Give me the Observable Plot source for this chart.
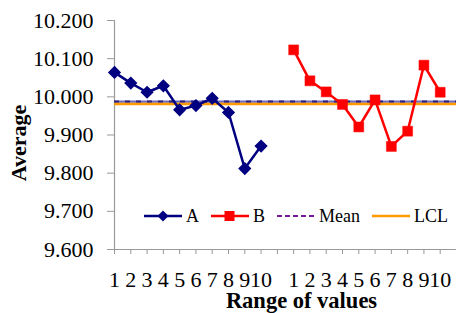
<!DOCTYPE html>
<html><head><meta charset="utf-8">
<script src="https://cdn.jsdelivr.net/npm/d3@7"></script>
<script src="https://cdn.jsdelivr.net/npm/@observablehq/plot@0.6"></script>
<style>
body{margin:0;background:#fff;}
#wrap{position:relative;width:456px;height:313px;font-family:"Liberation Serif","Times New Roman",serif;}
#wrap svg text{font-family:"Liberation Serif","Times New Roman",serif;}
#legend{position:absolute;left:144px;top:205px;display:flex;align-items:center;font-size:18px;line-height:22px;color:#000;}
#legend .item{display:flex;align-items:center;}
#legend svg{display:block;margin-right:4px;}
</style></head><body><div id="wrap"></div>
<script>
// Data
const labelsA = ["1","2","3","4","5","6","7","8","9","10"];
const labelsB = ["1","2","3","4","5","6","7","8","9","10"];
const seriesA = [10.064, 10.036, 10.012, 10.029, 9.966, 9.977, 9.996, 9.959, 9.812, 9.871];
const seriesB = [10.123, 10.042, 10.013, 9.980, 9.921, 9.992, 9.870, 9.910, 10.083, 10.012];
const meanValue = 9.988;
const lclValue = 9.982;
const yTicks = [9.6, 9.7, 9.8, 9.9, 10.0, 10.1, 10.2];
const xTickLabels = [...labelsA, "", ...labelsB];
const legendNames = ["A", "B", "Mean", "LCL"];

const colA = "#000080", colB = "#ff0000", colMean = "#7a1a9a", colLCL = "#ff9900";
const serif = "Liberation Serif";

const dataA = seriesA.map((v, i) => ({pos: i, value: v}));
const dataB = seriesB.map((v, i) => ({pos: i + labelsA.length + 1, value: v}));

const chart = Plot.plot({
  width: 456, height: 313,
  marginLeft: 114, marginRight: 0, marginTop: 20, marginBottom: 64,
  style: {fontFamily: serif, fontSize: "22px", color: "#000", background: "#fff", overflow: "visible"},
  x: {type: "linear", domain: [0, 21]},
  y: {domain: [9.6, 10.2]},
  marks: [
    Plot.ruleX([0], {stroke: "#999", strokeWidth: 1.2}),
    Plot.ruleY([9.6], {stroke: "#999", strokeWidth: 1.2}),
    Plot.axisY({ticks: yTicks, tickFormat: d => d.toFixed(3), tickSize: 7, tickPadding: 14, stroke: "#999", fill: "#000", label: null, fontSize: 22, fontFamily: serif}),
    Plot.axisX({ticks: d3.range(xTickLabels.length), tickFormat: i => xTickLabels[i], tickSize: 5, tickPadding: 17, stroke: "#999", fill: "#000", label: null, fontSize: 22, fontFamily: serif}),
    Plot.ruleY([lclValue], {stroke: colLCL, strokeWidth: 3}),
    Plot.ruleY([meanValue], {stroke: "#6a6ac0", strokeWidth: 2}),
    Plot.ruleY([meanValue], {stroke: "#30207a", strokeWidth: 2, strokeDasharray: "5,6"}),
    Plot.line(dataA, {x: "pos", y: "value", stroke: colA, strokeWidth: 2.5}),
    Plot.dot(dataA, {x: "pos", y: "value", symbol: "diamond2", r: 5, fill: colA, stroke: colA}),
    Plot.line(dataB, {x: "pos", y: "value", stroke: colB, strokeWidth: 2.5}),
    Plot.dot(dataB, {x: "pos", y: "value", symbol: "square", r: 5.6, fill: colB, stroke: colB, strokeWidth: 0.5}),
    Plot.text(["Average"], {frameAnchor: "left", textAnchor: "middle", dx: -96, dy: 8, rotate: -90, fontWeight: "bold", fontSize: 22, fontFamily: serif}),
    Plot.text(["Range of values"], {frameAnchor: "bottom", textAnchor: "middle", dx: 16, dy: 58, fontWeight: "bold", fontSize: 22.5, fontFamily: serif})
  ]
});

const wrap = document.getElementById("wrap");
wrap.appendChild(chart);

// Legend overlay
const legend = document.createElement("div");
legend.id = "legend";
const swatch = (name) => {
  const w = 38, h = 14;
  let s = `<svg width="${w}" height="${h}" viewBox="0 0 ${w} ${h}">`;
  if (name === "A") s += `<line x1="0" y1="7" x2="${w}" y2="7" stroke="${colA}" stroke-width="2.5"/><path d="M19 1.5L24.5 7L19 12.5L13.5 7Z" fill="${colA}"/>`;
  if (name === "B") s += `<line x1="0" y1="7" x2="${w}" y2="7" stroke="${colB}" stroke-width="2.5"/><rect x="13.5" y="2" width="10" height="10" fill="${colB}"/>`;
  if (name === "Mean") s += `<line x1="0" y1="7" x2="${w}" y2="7" stroke="${colMean}" stroke-width="2" stroke-dasharray="5,3"/>`;
  if (name === "LCL") s += `<line x1="0" y1="7" x2="${w}" y2="7" stroke="${colLCL}" stroke-width="2.5"/>`;
  return s + `</svg>`;
};
legendNames.forEach((n, i) => {
  const it = document.createElement("div");
  it.className = "item";
  it.style.marginRight = i < legendNames.length - 1 ? "12px" : "0";
  it.innerHTML = swatch(n) + `<span>${n}</span>`;
  legend.appendChild(it);
});
wrap.appendChild(legend);
</script>
</body></html>
